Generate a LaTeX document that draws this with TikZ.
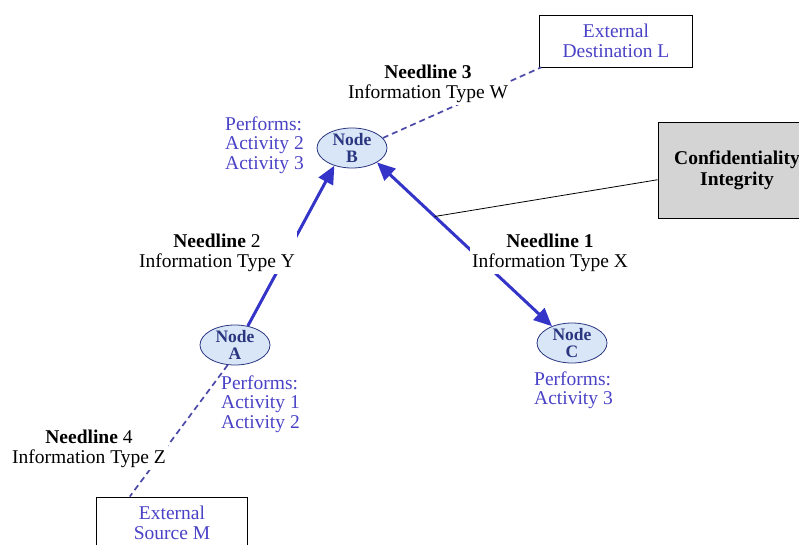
\documentclass[tikz,border=0pt]{standalone}
\usepackage{fontspec}
\setmainfont{Liberation Serif}
\usepackage{tikz}
\usetikzlibrary{shapes.geometric, arrows.meta}
\definecolor{flowblue}{HTML}{3434C8}
\definecolor{dashblue}{HTML}{4A48A8}
\definecolor{txtblue}{HTML}{4A42C6}
\definecolor{nodenavy}{HTML}{2A3580}
\definecolor{nodefill}{HTML}{D8E6F8}

\begin{document}
\begin{tikzpicture}[x=1pt, y=-1pt,
    every node/.style={font=\fontsize{19.5}{19.5}\selectfont},
    opnode/.style={ellipse, draw=nodenavy, thick, fill=nodefill, minimum width=70pt,
        minimum height=40pt, inner sep=-5pt, align=center, text=nodenavy,
        font=\fontsize{17.5}{17}\selectfont\bfseries},
    extbox/.style={draw, thick, fill=white, align=center, text=txtblue},
    needline/.style={fill=white, inner sep=2pt, align=center},
    performs/.style={text=txtblue, align=left, anchor=west, inner sep=0pt},
    flow/.style={draw=flowblue, line width=3pt, -{Triangle[length=18pt, width=16pt]}},
    extflow/.style={draw=dashblue, line width=1.7pt, dash pattern=on 6pt off 4pt}]
    % Picture size
    \useasboundingbox (0,0) rectangle (799,545);
    \clip (0,0) rectangle (799,545);

    % Operational nodes
    \node[opnode] (B) at (352,148) {Node\\B};
    \node[opnode] (A) at (235,345) {Node\\A};
    \node[opnode] (C) at (572,343) {Node\\C};

    % External boxes and attribute box
    \node[extbox, minimum width=153pt, minimum height=52pt] (L) at (616,41) {External\\Destination L};
    \node[extbox, minimum width=151pt, minimum height=52pt] (M) at (172,523) {External\\Source M};
    \node[draw, thick, fill=black!17, minimum width=158pt, minimum height=96pt, align=center,
        font=\fontsize{19.5}{21}\selectfont\bfseries] (ci) at (737,170) {Confidentiality\\Integrity};

    % Needlines
    \draw[flow] (A.56) -- (B.225);
    \draw[flow, {Triangle[length=18pt, width=16pt]}-{Triangle[length=18pt, width=16pt]}]
        (B.-30) -- coordinate[pos=0.33] (bc) (C.140);
    \draw[extflow] (B.18) -- ([xshift=2pt]L.south west);
    \draw[extflow] (A.250) -- (M.148);
    \draw[thick] (ci.187) -- (bc);

    % Needline labels
    \node[needline] (n3) at (428,84) {\textbf{Needline 3}\\Information Type W};
    \node[needline] (n2) at (217,253) {\textbf{Needline} 2\\Information Type Y};
    \node[needline] (n1) at (550,253) {\textbf{Needline 1}\\Information Type X};
    \node[needline] (n4) at (89,449) {\textbf{Needline} 4\\Information Type Z};

    % Activities
    \node[performs] (pb) at (225,145) {Performs:\\Activity 2\\Activity 3};
    \node[performs] (pa) at (221,404) {Performs:\\Activity 1\\Activity 2};
    \node[performs] (pc) at (534,390) {Performs:\\Activity 3};
\end{tikzpicture}
\end{document}
